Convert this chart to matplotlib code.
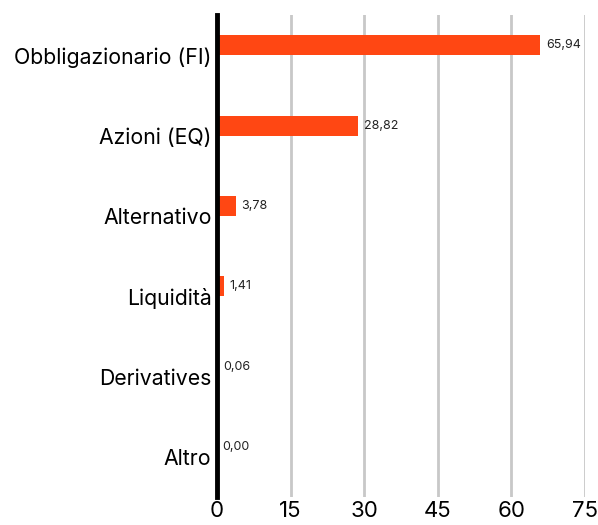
import matplotlib.pyplot as plt

# Data
categories = ['Obbligazionario (FI)', 'Azioni (EQ)', 'Alternativo', 'Liquidità', 'Derivatives', 'Altro']
values = [65.94, 28.82, 3.78, 1.41, 0.06, 0.00]
xticks = [0, 15, 30, 45, 60, 75]

plt.rcParams['font.family'] = ['Inter', 'DejaVu Sans']

fig = plt.figure(figsize=(5.98, 5.25), dpi=100)
ax = fig.add_axes([0.363, 0.053, 0.615, 0.918])

pos = list(range(len(categories)))
bar_pos = [p - 0.125 for p in pos]
ax.barh(bar_pos, values, height=0.25, color='#ff4713', zorder=3)

for y, v in zip(bar_pos, values):
    ax.annotate(f'{v:.2f}'.replace('.', ','), (v, y), xytext=(4, 0), textcoords='offset points',
                va='center', ha='left', fontsize=9, color='#222222')

ax.set_xlim(0, 75)
ax.set_ylim(5.5, -0.5)
ax.set_xticks(xticks)
ax.set_yticks(pos)
ax.set_yticklabels(categories)
ax.tick_params(axis='y', length=0, labelsize=15.3, pad=4)
ax.tick_params(axis='x', length=0, labelsize=16, pad=3)
ax.grid(axis='x', color='#c8c8c8', linewidth=2, zorder=0)

for s in ['top', 'right', 'bottom']:
    ax.spines[s].set_visible(False)
ax.spines['left'].set_linewidth(3.5)
ax.spines['left'].set_color('black')
ax.spines['left'].set_zorder(4)

plt.savefig('out.png', dpi=100)
